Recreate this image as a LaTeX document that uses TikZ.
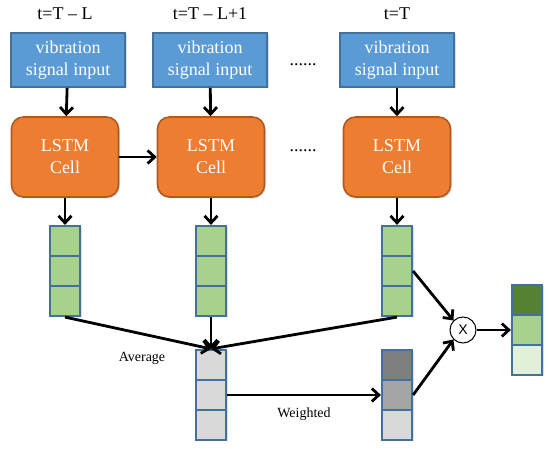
\documentclass[tikz,border=0pt]{standalone}
\usepackage{fontspec}
\setmainfont{Liberation Serif}
\newfontfamily\xfont{Liberation Sans}
\usetikzlibrary{arrows.meta,shadows}
\newdimen\unitsize
\setlength{\unitsize}{1pt}
\definecolor{inblue}{HTML}{5B9BD5}
\definecolor{inedge}{HTML}{41719C}
\definecolor{lstmfill}{HTML}{ED7D31}
\definecolor{lstmedge}{HTML}{AE5A21}
\definecolor{cellgreen}{HTML}{A9D18E}
\definecolor{cellgray}{HTML}{D9D9D9}
\definecolor{cellmid}{HTML}{A5A5A5}
\definecolor{celldark}{HTML}{7F7F7F}
\definecolor{outdark}{HTML}{548235}
\definecolor{outlight}{HTML}{E2F0D9}

\begin{document}
\begin{tikzpicture}[x=\unitsize,y=-\unitsize]
\tikzset{boxshadow/.style={drop shadow={opacity=0.25,shadow xshift=1.5pt,shadow yshift=-1.5pt}}}%
\tikzset{inbox/.style={draw=inedge, fill=inblue, line width=1.6pt, text=white, align=center,
  minimum width=114pt, minimum height=54pt, font=\fontsize{18}{22}\selectfont, boxshadow}}%
\tikzset{lstmbox/.style={draw=lstmedge, fill=lstmfill, line width=1.6pt, text=white, align=center,
  rounded corners=12pt, minimum width=107pt, minimum height=80pt, font=\fontsize{18}{22}\selectfont, boxshadow}}%
\tikzset{cell/.style={draw=inedge, line width=2.2pt, minimum width=30pt, minimum height=30pt, inner sep=0pt, boxshadow}}%
\tikzset{lbl/.style={font=\fontsize{18}{22}\selectfont}}%
\tikzset{small/.style={font=\fontsize{14}{16}\selectfont}}%
\tikzset{edge/.style={line width=2.8pt, -{Straight Barb[length=7pt,width=13pt,line width=2.8pt]}}}%
\useasboundingbox (0,0) rectangle (550,449);
% time step labels
\node[lbl] (t1) at (65,14) {t=T -- L};
\node[lbl] (t2) at (210,14) {t=T -- L+1};
\node[lbl] (t3) at (397,14) {t=T};
% inputs
\node[inbox] (in1) at (68,60) {vibration\\signal input};
\node[inbox] (in2) at (210,60) {vibration\\signal input};
\node[inbox] (in3) at (397,60) {vibration\\signal input};
\node[lbl] (dots1) at (303,65) {......};
% lstm cells
\node[lstmbox] (lstm1) at (65,157) {LSTM\\Cell};
\node[lstmbox] (lstm2) at (211,157) {LSTM\\Cell};
\node[lstmbox] (lstm3) at (397,157) {LSTM\\Cell};
\node[lbl] (dots2) at (303,151) {......};
% hidden states
\node[cell, fill=cellgreen] (h1a) at (65,241) {};
\node[cell, fill=cellgreen] (h1b) at (65,271) {};
\node[cell, fill=cellgreen] (h1c) at (65,301) {};
\node[cell, fill=cellgreen] (h2a) at (211,241) {};
\node[cell, fill=cellgreen] (h2b) at (211,271) {};
\node[cell, fill=cellgreen] (h2c) at (211,301) {};
\node[cell, fill=cellgreen] (h3a) at (397,241) {};
\node[cell, fill=cellgreen] (h3b) at (397,271) {};
\node[cell, fill=cellgreen] (h3c) at (397,301) {};
% average
\node[cell, fill=cellgray] (av1) at (211,365) {};
\node[cell, fill=cellgray] (av2) at (211,395) {};
\node[cell, fill=cellgray] (av3) at (211,425) {};
\node[small] (avg) at (142,358) {Average};
% weighted
\node[cell, fill=celldark] (w1) at (397,365) {};
\node[cell, fill=cellmid] (w2) at (397,395) {};
\node[cell, fill=cellgray] (w3) at (397,425) {};
\node[small] (wgt) at (304,414) {Weighted};
% product and output
\node[draw, circle, line width=1pt, fill=white, minimum size=26pt, inner sep=0pt, font=\xfont\fontsize{14}{14}\selectfont] (mul) at (463,330) {X};
\node[cell, fill=outdark] (o1) at (527,300) {};
\node[cell, fill=cellgreen] (o2) at (527,330) {};
\node[cell, fill=outlight] (o3) at (527,360) {};
% connectors
\draw[edge] (in1) -- (lstm1);
\draw[edge] (in2) -- (lstm2);
\draw[edge] (in3) -- (lstm3);
\draw[edge] (lstm1) -- (lstm2);
\draw[edge] (lstm1) -- (h1a);
\draw[edge] (lstm2) -- (h2a);
\draw[edge] (lstm3) -- (h3a);
\draw[edge] (h1c.south) -- (av1.north);
\draw[edge] (h2c.south) -- (av1.north);
\draw[edge] (h3c.south) -- (av1.north);
\draw[edge] (av2.east) -- (w2.west);
\draw[edge] (h3b.east) -- (mul.north west);
\draw[edge] (w2.east) -- (mul.south west);
\draw[edge] (mul.east) -- (o2.west);
\end{tikzpicture}
\end{document}
